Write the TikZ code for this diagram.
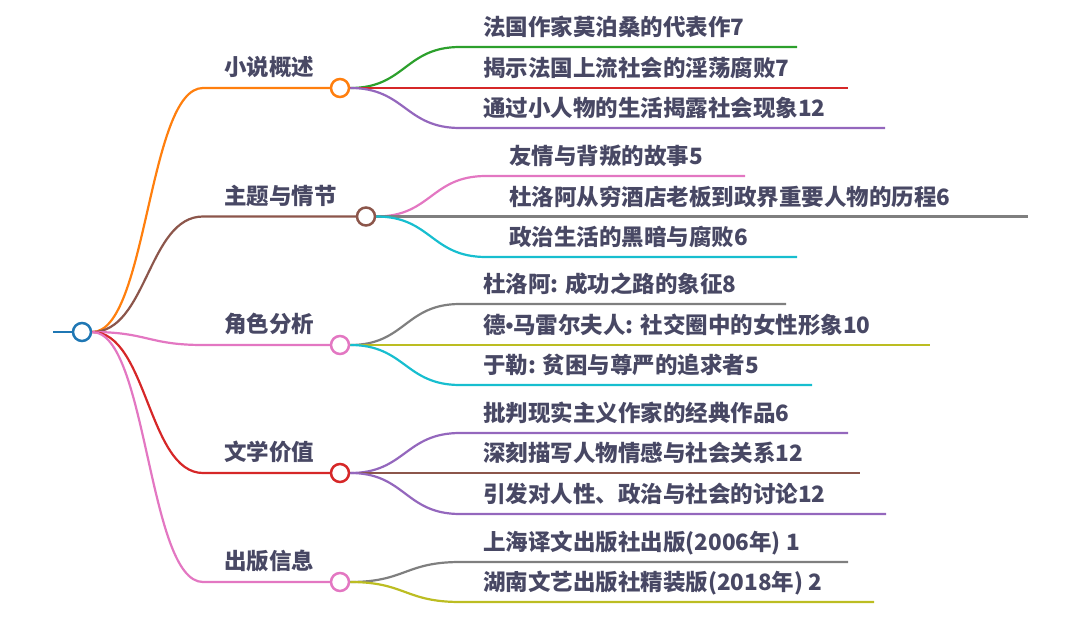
\documentclass[tikz,border=0pt]{standalone}
\usepackage{fontspec}
\setmainfont{Noto Sans CJK SC}
\newfontfamily\latinfont{Liberation Sans}
\usepackage{tikz}
\usetikzlibrary{positioning}
\definecolor{tblue}{HTML}{1F77B4}
\definecolor{torange}{HTML}{FF7F0E}
\definecolor{tgreen}{HTML}{2CA02C}
\definecolor{tred}{HTML}{D62728}
\definecolor{tpurple}{HTML}{9467BD}
\definecolor{tbrown}{HTML}{8C564B}
\definecolor{tpink}{HTML}{E377C2}
\definecolor{tgray}{HTML}{7F7F7F}
\definecolor{tolive}{HTML}{BCBD22}
\definecolor{tcyan}{HTML}{17BECF}
\definecolor{ink}{RGB}{72,72,100}

\begin{document}
\begin{tikzpicture}[x=1pt,y=-1pt,line width=2.2pt,
    hub/.style={circle,draw,fill=white,line width=2.5pt,minimum size=18pt,inner sep=0pt},
    cat/.style={anchor=base west,inner sep=0pt,text=ink,font=\fontsize{22.5}{26}\selectfont\bfseries},
    leaf/.style={cat},
    link/.style={to path={.. controls +(55,0) and +(-55,0) .. (\tikztotarget)}}]
        \useasboundingbox (0,0) rectangle (1080,618);
        % root
        \coordinate (tail) at (53,332);
        \node[hub,draw=tblue] (root) at (82,332) {};
        \draw[tblue] (tail) -- (root.west);
        % main branches
        \coordinate (k1s) at (203,88);
        \coordinate (k2s) at (203,216.5);
        \coordinate (k3s) at (203,345);
        \coordinate (k4s) at (203,473);
        \coordinate (k5s) at (203,582);
        \node[hub,draw=torange] (k1) at (340,88) {};
        \node[hub,draw=tbrown] (k2) at (366,216.5) {};
        \node[hub,draw=tpink] (k3) at (340,345) {};
        \node[hub,draw=tred] (k4) at (340,473) {};
        \node[hub,draw=tpink] (k5) at (340,582) {};
        \node[cat] (l1) at (223,75.6) {小说概述};
        \node[cat] (l2) at (223,204.1) {主题与情节};
        \node[cat] (l3) at (223,332.6) {角色分析};
        \node[cat] (l4) at (223,460.6) {文学价值};
        \node[cat] (l5) at (223,569.6) {出版信息};
        \draw[torange] (root.east) to[link] (k1s) -- (k1.west);
        \draw[tbrown] (root.east) to[link] (k2s) -- (k2.west);
        \draw[tpink] (root.east) to[link] (k3s) -- (k3.west);
        \draw[tred] (root.east) to[link] (k4s) -- (k4.west);
        \draw[tpink] (root.east) to[link] (k5s) -- (k5.west);
        % 小说概述
        \coordinate (k1a) at (460,47);   \coordinate (k1aE) at (797,47);
        \coordinate (k1b) at (460,88);   \coordinate (k1bE) at (848,88);
        \coordinate (k1c) at (460,128);  \coordinate (k1cE) at (885,128);
        \node[leaf] (t1a) at (482,35.6) {法国作家莫泊桑的代表作7};
        \node[leaf] (t1b) at (482,76.6) {揭示法国上流社会的淫荡腐败7};
        \node[leaf] (t1c) at (482,116.6) {通过小人物的生活揭露社会现象12};
        \draw[tgreen] (k1.east) to[link] (k1a) -- (k1aE);
        \draw[tred] (k1.east) to[link] (k1b) -- (k1bE);
        \draw[tpurple] (k1.east) to[link] (k1c) -- (k1cE);
        % 主题与情节
        \coordinate (k2a) at (486,176);   \coordinate (k2aE) at (745,176);
        \coordinate (k2b) at (486,216.5); \coordinate (k2bE) at (1028,216.5);
        \coordinate (k2c) at (486,257);   \coordinate (k2cE) at (797,257);
        \node[leaf] (t2a) at (508,164.6) {友情与背叛的故事5};
        \node[leaf] (t2b) at (508,205.1) {杜洛阿从穷酒店老板到政界重要人物的历程6};
        \node[leaf] (t2c) at (508,245.6) {政治生活的黑暗与腐败6};
        \draw[tpink] (k2.east) to[link] (k2a) -- (k2aE);
        \draw[tgray] (k2.east) to[link] (k2b) -- (k2bE);
        \draw[tcyan] (k2.east) to[link] (k2c) -- (k2cE);
        % 角色分析
        \coordinate (k3a) at (460,304);  \coordinate (k3aE) at (786,304);
        \coordinate (k3b) at (460,345);  \coordinate (k3bE) at (930,345);
        \coordinate (k3c) at (460,385);  \coordinate (k3cE) at (812,385);
        \node[leaf] (t3a) at (482,292.6) {杜洛阿: 成功之路的象征8};
        \node[leaf] (t3b) at (482,333.6) {德{\latinfont •}马雷尔夫人: 社交圈中的女性形象10};
        \node[leaf] (t3c) at (482,373.6) {于勒: 贫困与尊严的追求者5};
        \draw[tgray] (k3.east) to[link] (k3a) -- (k3aE);
        \draw[tolive] (k3.east) to[link] (k3b) -- (k3bE);
        \draw[tcyan] (k3.east) to[link] (k3c) -- (k3cE);
        % 文学价值
        \coordinate (k4a) at (460,433);  \coordinate (k4aE) at (848,433);
        \coordinate (k4b) at (460,473);  \coordinate (k4bE) at (860,473);
        \coordinate (k4c) at (460,514);  \coordinate (k4cE) at (886,514);
        \node[leaf] (t4a) at (482,421.6) {批判现实主义作家的经典作品6};
        \node[leaf] (t4b) at (482,461.6) {深刻描写人物情感与社会关系12};
        \node[leaf] (t4c) at (482,502.6) {引发对人性、政治与社会的讨论12};
        \draw[tpurple] (k4.east) to[link] (k4a) -- (k4aE);
        \draw[tbrown] (k4.east) to[link] (k4b) -- (k4bE);
        \draw[tpurple] (k4.east) to[link] (k4c) -- (k4cE);
        % 出版信息
        \coordinate (k5a) at (460,562);  \coordinate (k5aE) at (848,562);
        \coordinate (k5b) at (460,602);  \coordinate (k5bE) at (874,602);
        \node[leaf] (t5a) at (482,550.6) {上海译文出版社出版(2006年) 1};
        \node[leaf] (t5b) at (482,590.6) {湖南文艺出版社精装版(2018年) 2};
        \draw[tgray] (k5.east) to[link] (k5a) -- (k5aE);
        \draw[tolive] (k5.east) to[link] (k5b) -- (k5bE);
    \end{tikzpicture}
\end{document}
